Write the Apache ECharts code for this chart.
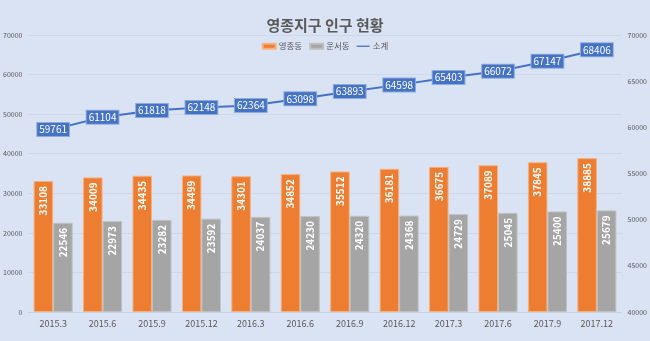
<!DOCTYPE html>
<html><head><meta charset="utf-8">
<script src="https://cdn.jsdelivr.net/npm/echarts@6/dist/echarts.min.js"></script>
<style>html,body{margin:0;padding:0;background:#DAE3F3}#c{width:650px;height:341px}</style>
</head><body><div id="c"></div>
<script>
const categories = ['2015.3','2015.6','2015.9','2015.12','2016.3','2016.6','2016.9','2016.12','2017.3','2017.6','2017.9','2017.12'];
const yeongjong = [33108,34009,34435,34499,34301,34852,35512,36181,36675,37089,37845,38885];
const unseo = [22546,22973,23282,23592,24037,24230,24320,24368,24729,25045,25400,25679];
const subtotal = [59761,61104,61818,62148,62364,63098,63893,64598,65403,66072,67147,68406];
const FONT = "'Noto Sans CJK KR', 'Noto Sans', sans-serif";
const chart = echarts.init(document.getElementById('c'));
const barLabel = {show:true, position:'insideTop', rotate:90, align:'right', verticalAlign:'middle', distance:5, color:'#fff', fontSize:10, fontWeight:'bold', fontFamily:FONT};
const plain = v => String(v);
chart.setOption({
  backgroundColor:'#DAE3F3',
  animation:false,
  textStyle:{fontFamily:FONT},
  title:{text:'영종지구 인구 현황', left:'center', top:13, textStyle:{fontSize:15, fontWeight:'bold', color:'#595959', fontFamily:FONT}},
  legend:{top:37, left:'center', itemWidth:13, itemHeight:5, itemGap:7, textStyle:{fontSize:8.5, color:'#595959', fontFamily:FONT, padding:[0,0,0,-2]},
    data:[{name:'영종동', icon:'rect'},{name:'운서동', icon:'rect'},{name:'소계', icon:'path://M0,4 L20,4 L20,6 L0,6 Z'}]},
  grid:{left:26, right:27, top:35, bottom:29, containLabel:false},
  xAxis:{type:'category', data:categories, axisLine:{lineStyle:{color:'#C8D0DC'}}, axisTick:{show:false},
    axisLabel:{color:'#595959', fontSize:9, margin:7, fontFamily:FONT}},
  yAxis:[
    {type:'value', min:0, max:70000, interval:10000, axisLine:{show:false}, axisTick:{show:false},
      axisLabel:{color:'#595959', fontSize:7, margin:6, fontFamily:FONT, formatter:plain}, splitLine:{lineStyle:{color:'#CFD8E8'}}},
    {type:'value', min:40000, max:70000, interval:5000, axisLine:{show:false}, axisTick:{show:false},
      axisLabel:{color:'#595959', fontSize:7, margin:6, fontFamily:FONT, formatter:plain}, splitLine:{show:false}}
  ],
  series:[
    {name:'영종동', type:'bar', data:yeongjong, barGap:'0%', barCategoryGap:'21%', itemStyle:{color:'#ED7D31', borderColor:'#F4B183', borderWidth:1}, label:barLabel},
    {name:'운서동', type:'bar', data:unseo, itemStyle:{color:'#A5A5A5', borderColor:'#C0C0C0', borderWidth:1}, label:barLabel},
    {name:'소계', type:'line', yAxisIndex:1, data:subtotal, symbol:'circle', symbolSize:1, showSymbol:true, lineStyle:{color:'#4472C4', width:2}, itemStyle:{color:'#4472C4'},
      label:{show:true, position:'inside', formatter:'{c}', color:'#fff', fontSize:10, fontFamily:FONT, backgroundColor:'#4472C4', borderColor:'#8FAADC', borderWidth:1, padding:[2,2,1,2]}}
  ]
});
</script></body></html>
